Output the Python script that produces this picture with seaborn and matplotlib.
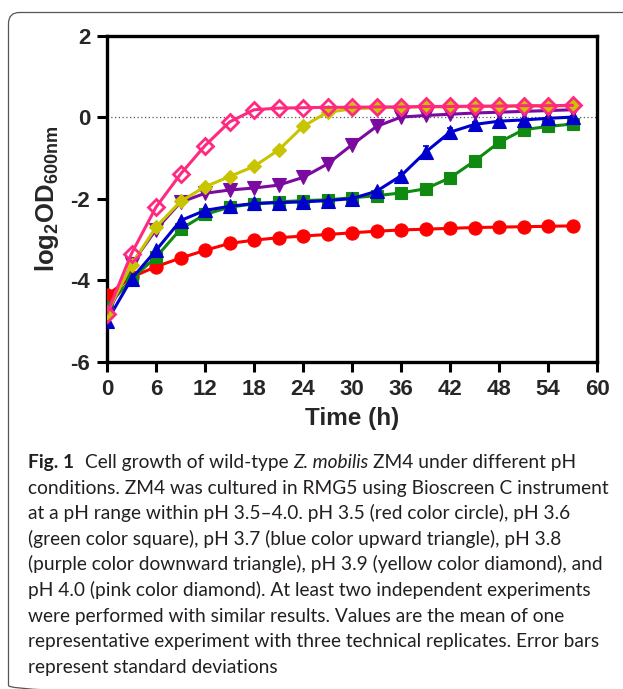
import numpy as np
import pandas as pd
import seaborn as sns
import matplotlib.pyplot as plt
from matplotlib.patches import FancyBboxPatch

# time points (h)
time_h = [0, 3, 6, 9, 12, 15, 18, 21, 24, 27, 30, 33, 36, 39, 42, 45, 48, 51, 54, 57]

# log2 OD600 per pH
ph35 = [-4.36, -3.92, -3.66, -3.45, -3.26, -3.09, -3.01, -2.95, -2.91, -2.87,
        -2.83, -2.79, -2.76, -2.74, -2.72, -2.70, -2.69, -2.68, -2.67, -2.66]
ph36 = [-4.65, -3.96, -3.43, -2.74, -2.38, -2.20, -2.12, -2.07, -2.04, -2.02,
        -1.97, -1.92, -1.85, -1.75, -1.48, -1.07, -0.61, -0.30, -0.22, -0.16]
ph37 = [-5.00, -3.96, -3.26, -2.53, -2.28, -2.18, -2.11, -2.09, -2.07, -2.04,
        -1.99, -1.81, -1.43, -0.85, -0.36, -0.17, -0.09, -0.06, -0.02, 0.01]
ph38 = [-4.85, -3.60, -2.75, -2.08, -1.86, -1.78, -1.73, -1.66, -1.47, -1.14,
        -0.67, -0.22, 0.01, 0.05, 0.08, 0.11, 0.13, 0.15, 0.17, 0.19]
ph39 = [-4.80, -3.61, -2.69, -2.06, -1.70, -1.45, -1.20, -0.80, -0.22, 0.13,
        0.21, 0.24, 0.25, 0.26, 0.26, 0.27, 0.27, 0.28, 0.28, 0.29]
ph40 = [-4.81, -3.34, -2.20, -1.39, -0.69, -0.11, 0.19, 0.23, 0.24, 0.25,
        0.25, 0.26, 0.26, 0.27, 0.27, 0.28, 0.28, 0.29, 0.29, 0.30]

# standard deviations (only visible ones are non-trivial)
sd36 = [0.02] * 14 + [0.06, 0.10, 0.09, 0.03, 0.02, 0.02]
sd37 = [0.02] * 11 + [0.03, 0.08, 0.15, 0.10, 0.05, 0.03, 0.02, 0.02, 0.02]

labels = ["pH 3.5", "pH 3.6", "pH 3.7", "pH 3.8", "pH 3.9", "pH 4.0"]
series = [ph35, ph36, ph37, ph38, ph39, ph40]
errors = [None, sd36, sd37, None, None, None]
colors = ["#ff0000", "#108a10", "#0000cc", "#7a0aa0", "#c8c400", "#ff2a80"]
markers = ["o", "s", "^", "v", "D", "D"]
msizes = [9.5, 8.5, 9.5, 9.5, 7.5, 8]

caption_lines = [
    "conditions. ZM4 was cultured in RMG5 using Bioscreen C instrument",
    "at a pH range within pH 3.5\u20134.0. pH 3.5 (red color circle), pH 3.6",
    "(green color square), pH 3.7 (blue color upward triangle), pH 3.8",
    "(purple color downward triangle), pH 3.9 (yellow color diamond), and",
    "pH 4.0 (pink color diamond). At least two independent experiments",
    "were performed with similar results. Values are the mean of one",
    "representative experiment with three technical replicates. Error bars",
    "represent standard deviations",
]

sns.set_theme(style="ticks")
plt.rcParams['font.family'] = ['Liberation Sans', 'DejaVu Sans']
plt.rcParams['mathtext.default'] = 'regular'
plt.rcParams['axes.unicode_minus'] = False

W, H = 623, 689
fig = plt.figure(figsize=(W / 100, H / 100), dpi=100)

# background overlay in pixel coordinates (frame + caption)
bg = fig.add_axes([0, 0, 1, 1], zorder=-1)
bg.set_xlim(0, W)
bg.set_ylim(H, 0)
bg.axis("off")
bg.add_patch(FancyBboxPatch((8.5, 12.5), 700, 684,
                            boxstyle="round,pad=0,rounding_size=11",
                            fc="none", ec="#555555", lw=0.9))

ax = fig.add_axes([107 / W, 1 - 362 / H, (597 - 107) / W, (362 - 36) / H])

ax.axhline(0, color="#555555", lw=0.9, ls=(0, (1, 2)), zorder=1)

for vals, sd, c, m, ms, lab in zip(series, errors, colors, markers, msizes, labels):
    df = pd.DataFrame({"Time": time_h, "OD": vals})
    if sd is not None:
        ax.errorbar(time_h, vals, yerr=sd, fmt="none", ecolor=c,
                    elinewidth=1.2, capsize=2.5, capthick=1.2, zorder=2)
    hollow = lab == "pH 4.0"
    sns.lineplot(data=df, x="Time", y="OD", ax=ax, color=c, lw=2.2,
                 marker=m, markersize=ms, markeredgecolor=c,
                 markeredgewidth=2.0 if hollow else 0.8,
                 markerfacecolor="none" if hollow else c,
                 sort=False, zorder=3)

ax.set_xlim(0, 60)
ax.set_ylim(-6, 2)
ax.set_xticks(np.arange(0, 61, 6))
ax.set_yticks(np.arange(-6, 3, 2))
ax.set_xlabel("Time (h)", fontsize=17.5, fontweight="bold", labelpad=5)
ax.set_ylabel("log$_2$OD$_{600nm}$", fontsize=18.5, fontweight="bold", labelpad=7)
ax.tick_params(axis="both", which="major", labelsize=16, width=2.2,
               length=7, direction="out", color="black", pad=5)
for lbl in ax.get_xticklabels() + ax.get_yticklabels():
    lbl.set_fontweight("bold")
for s in ax.spines.values():
    s.set_linewidth(2.4)
    s.set_color("black")
    s.set_visible(True)

# caption
cap_family = ["Lato", "DejaVu Sans"]
renderer = fig.canvas.get_renderer()


def text_width(txt, size, weight="normal", style="normal"):
    t = bg.text(0, 0, txt, fontsize=size, family=cap_family,
                fontweight=weight, fontstyle=style)
    w = t.get_window_extent(renderer).width
    t.remove()
    return w


base = 12.0
cap_size = base * 580 / text_width(caption_lines[0], base)
space = text_width("a a", cap_size) - text_width("aa", cap_size)
cap_color = "#231f20"

x0, y0, step = 28, 468, 25.6
runs = [("Fig. 1", "bold", "normal", 2.2),
        ("Cell growth of wild-type", "normal", "normal", 1),
        ("Z. mobilis", "normal", "italic", 1),
        ("ZM4 under different pH", "normal", "normal", 0)]
x = x0
for txt, wt, st, gap in runs:
    bg.text(x, y0, txt, fontsize=cap_size, family=cap_family, fontweight=wt,
            fontstyle=st, color=cap_color, va="baseline", ha="left")
    x += text_width(txt, cap_size, wt, st) + gap * space

for i, line in enumerate(caption_lines):
    bg.text(x0, y0 + (i + 1) * step, line, fontsize=cap_size, family=cap_family,
            color=cap_color, va="baseline", ha="left")

fig.savefig("out.png", dpi=100)
